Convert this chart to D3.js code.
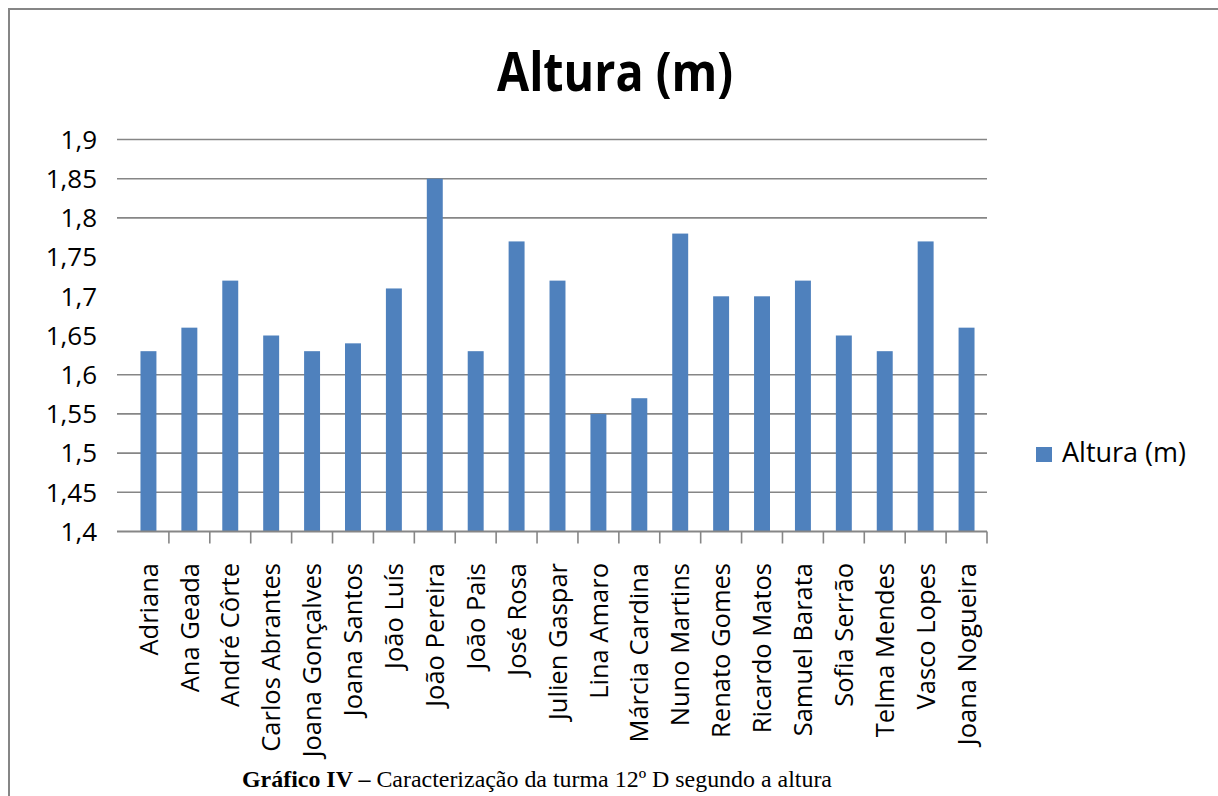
<!DOCTYPE html>
<html>
<head>
<meta charset="utf-8">
<script src="https://cdn.jsdelivr.net/npm/d3@7"></script>
<style>
  html, body { margin: 0; padding: 0; background: #fff; }
  svg { display: block; }
</style>
</head>
<body>
<svg id="chart" width="1218" height="796"></svg>
<script>
// ---- data ----
const names = ["Adriana", "Ana Geada", "André Côrte", "Carlos Abrantes", "Joana Gonçalves",
  "Joana Santos", "João Luís", "João Pereira", "João Pais", "José Rosa", "Julien Gaspar",
  "Lina Amaro", "Márcia Cardina", "Nuno Martins", "Renato Gomes", "Ricardo Matos",
  "Samuel Barata", "Sofia Serrão", "Telma Mendes", "Vasco Lopes", "Joana Nogueira"];
const heights = [1.63, 1.66, 1.72, 1.65, 1.63, 1.64, 1.71, 1.85, 1.63, 1.77, 1.72,
  1.55, 1.57, 1.78, 1.70, 1.70, 1.72, 1.65, 1.63, 1.77, 1.66];
const yTicks = [1.4, 1.45, 1.5, 1.55, 1.6, 1.65, 1.7, 1.75, 1.8, 1.85, 1.9];
// gridlines visible in the reference picture
const gridValues = [1.45, 1.5, 1.55, 1.6, 1.8, 1.85, 1.9];
const seriesName = "Altura (m)";
const titleText = "Altura (m)";
const captionBold = "Gráfico IV – ";
const captionRest = "Caracterização da turma 12º D segundo a altura";

// ---- drawing ----
const svg = d3.select("#chart");
const fmt = v => d3.format("")(+v.toFixed(2)).replace(".", ",");

// outer frame
svg.append("path")
  .attr("d", "M9,796 L9,9 L1218,9")
  .attr("fill", "none").attr("stroke", "#868686").attr("stroke-width", 2);

const plotLeft = 117, plotRight = 987;
const x = d3.scaleBand().domain(names).range([128, 987])
  .paddingInner(0.61).paddingOuter(0.305);
const y = d3.scaleLinear().domain([1.4, 1.9]).range([531.5, 139.5]);

// gridlines
svg.append("g").selectAll("line").data(gridValues).join("line")
  .attr("x1", plotLeft).attr("x2", plotRight)
  .attr("y1", d => y(d)).attr("y2", d => y(d))
  .attr("stroke", "#868686").attr("stroke-width", 1.6);

// bars
svg.append("g").selectAll("rect").data(names).join("rect")
  .attr("x", d => x(d))
  .attr("width", x.bandwidth())
  .attr("y", (d, i) => y(heights[i]))
  .attr("height", (d, i) => y(1.4) - y(heights[i]))
  .attr("fill", "#4F81BD");

// x axis line + ticks
svg.append("line")
  .attr("x1", plotLeft).attr("x2", plotRight)
  .attr("y1", y(1.4)).attr("y2", y(1.4))
  .attr("stroke", "#868686").attr("stroke-width", 2);
const step = x.step();
svg.append("g").selectAll("line").data(names).join("line")
  .attr("x1", d => x(d) + x.bandwidth() / 2 + step / 2)
  .attr("x2", d => x(d) + x.bandwidth() / 2 + step / 2)
  .attr("y1", y(1.4)).attr("y2", y(1.4) + 12)
  .attr("stroke", "#868686").attr("stroke-width", 1.6);

// y tick labels
svg.append("g").selectAll("text").data(yTicks).join("text")
  .attr("x", 97).attr("y", d => y(d)).attr("dy", "0.36em")
  .attr("text-anchor", "end")
  .attr("font-family", "'Open Sans', sans-serif").attr("font-size", 26)
  .attr("fill", "#000")
  .text(d => fmt(d));

// x category labels (rotated)
svg.append("g").selectAll("text").data(names).join("text")
  .attr("transform", d => `translate(${x(d) + x.bandwidth() / 2},563) rotate(-90)`)
  .attr("dy", "0.36em")
  .attr("text-anchor", "end")
  .attr("font-family", "'Open Sans', sans-serif").attr("font-size", 25.5)
  .attr("fill", "#000")
  .text(d => d);

// title
svg.append("text")
  .attr("x", 615).attr("y", 91).attr("text-anchor", "middle")
  .attr("font-family", "'Open Sans', sans-serif").attr("font-weight", "bold")
  .attr("font-size", 54).attr("textLength", 236).attr("lengthAdjust", "spacingAndGlyphs")
  .attr("fill", "#000")
  .text(titleText);

// legend
const leg = svg.append("g");
leg.append("rect").attr("x", 1036).attr("y", 447).attr("width", 16).attr("height", 15)
  .attr("fill", "#4F81BD");
leg.append("text").attr("x", 1062).attr("y", 462)
  .attr("font-family", "'Open Sans', sans-serif").attr("font-size", 27)
  .attr("fill", "#000").text(seriesName);

// caption
const cap = svg.append("text")
  .attr("x", 242).attr("y", 787)
  .attr("font-family", "'Liberation Serif', 'Times New Roman', serif").attr("font-size", 23)
  .attr("textLength", 590).attr("lengthAdjust", "spacingAndGlyphs")
  .attr("fill", "#000");
cap.append("tspan").attr("font-weight", "bold").text(captionBold);
cap.append("tspan").text(captionRest);
</script>
</body>
</html>
